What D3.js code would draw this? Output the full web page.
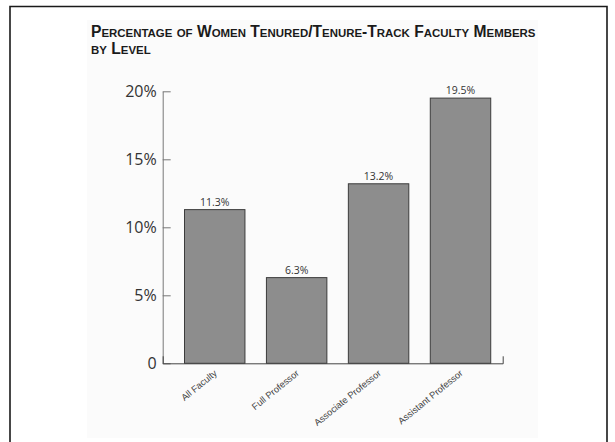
<!DOCTYPE html>
<html>
<head>
<meta charset="utf-8">
<script src="https://cdn.jsdelivr.net/npm/d3@7/dist/d3.min.js"></script>
<style>
  html, body { margin: 0; padding: 0; background: #fff; }
  svg { display: block; }
</style>
</head>
<body>
<svg id="chart" width="615" height="442"></svg>
<script>
// Share of women among tenured / tenure-track faculty, by rank
const categories = ["All Faculty", "Full Professor", "Associate Professor", "Assistant Professor"];
const values = [11.3, 6.3, 13.2, 19.5];
const valueLabels = ["11.3%", "6.3%", "13.2%", "19.5%"];
const yTicks = [0, 5, 10, 15, 20];
const yTickLabels = ["0", "5%", "10%", "15%", "20%"];
const titleLines = ["Percentage of Women Tenured/Tenure-Track Faculty Members", "by Level"];

const svg = d3.select("#chart");

// outer frame (open at the bottom)
svg.append("path")
  .attr("d", "M10,446V6.5H607V446")
  .attr("fill", "none")
  .attr("stroke", "#1a1a1a")
  .attr("stroke-width", 1.6);

// faint panel behind the figure
svg.append("rect")
  .attr("x", 87).attr("y", 20).attr("width", 451).attr("height", 418)
  .attr("fill", "#fbfbfb");

// Title in small caps: capitals large, the rest as smaller capitals
function smallCaps(textSel, str, big, small) {
  const re = /[a-z]+|[^a-z]+/g;
  let m;
  while ((m = re.exec(str)) !== null) {
    const chunk = m[0];
    const lower = /[a-z]/.test(chunk[0]);
    textSel.append("tspan")
      .attr("class", lower ? "sc" : "cap")
      .attr("font-size", lower ? small : big)
      .text(chunk.toUpperCase());
  }
}
function titleText(yPos) {
  return svg.append("text")
    .attr("x", 91).attr("y", yPos)
    .attr("font-family", "'Liberation Sans', Arial, sans-serif")
    .attr("font-weight", 700)
    .attr("fill", "#1a1a1a");
}
let big = 15, small = 11;
const t1 = titleText(37);
smallCaps(t1, titleLines[0], big, small);
// fit the first line to its set width by scaling both sizes together
const k = Math.min(1.04, 451 / t1.node().getComputedTextLength());
big *= k; small *= k;
t1.selectAll("tspan.cap").attr("font-size", big);
t1.selectAll("tspan.sc").attr("font-size", small);
const t2 = titleText(54);
smallCaps(t2, titleLines[1], big, small);

// scales
const x = d3.scaleBand()
  .domain(categories)
  .range([162.7, 502.7])
  .paddingInner(0.25)
  .paddingOuter(0.2)
  .align(0.65);

const y = d3.scaleLinear()
  .domain([0, 20])
  .range([363.3, 91.3]);

// bars
svg.append("g").selectAll("rect")
  .data(values)
  .join("rect")
  .attr("x", (d, i) => x(categories[i]) + 0.5)
  .attr("y", d => y(d))
  .attr("width", x.bandwidth() - 1)
  .attr("height", d => y(0) - y(d))
  .attr("fill", "#8d8d8d")
  .attr("stroke", "#3c3c3c")
  .attr("stroke-width", 1);

// value labels above bars
svg.append("g").selectAll("text")
  .data(values)
  .join("text")
  .attr("x", (d, i) => x(categories[i]) + x.bandwidth() / 2)
  .attr("y", d => y(d) - 4)
  .attr("text-anchor", "middle")
  .attr("font-family", "'Open Sans', sans-serif")
  .attr("font-size", 10.5)
  .attr("fill", "#333")
  .text((d, i) => valueLabels[i]);

// y axis: ticks point inward, labels on the left
const yAxis = d3.axisLeft(y)
  .tickValues(yTicks)
  .tickFormat((d, i) => yTickLabels[i])
  .tickSizeInner(-8)
  .tickSizeOuter(0)
  .tickPadding(6);
const gy = svg.append("g")
  .attr("transform", "translate(162.7,0)")
  .call(yAxis);
gy.select(".domain").attr("stroke", "#777");
gy.selectAll(".tick line").attr("stroke", "#777");
gy.selectAll(".tick text")
  .attr("font-family", "'Open Sans', sans-serif")
  .attr("font-size", 16)
  .attr("fill", "#333");

// x axis baseline with a short end tick on the right
const xAxis = d3.axisBottom(x)
  .tickSize(0)
  .tickSizeOuter(-7)
  .tickFormat("");
const gx = svg.append("g")
  .attr("transform", `translate(0,${y(0)})`)
  .call(xAxis);
gx.select(".domain").attr("stroke", "#444");
gx.selectAll(".tick").remove();

// rotated category labels
svg.append("g").selectAll("text")
  .data(categories)
  .join("text")
  .attr("transform", d => `translate(${x(d) + x.bandwidth() / 2 + 3},${y(0) + 11}) rotate(-39)`)
  .attr("text-anchor", "end")
  .attr("font-family", "'Liberation Sans', Arial, sans-serif")
  .attr("font-size", 9.3)
  .attr("fill", "#444")
  .text(d => d);
</script>
</body>
</html>
